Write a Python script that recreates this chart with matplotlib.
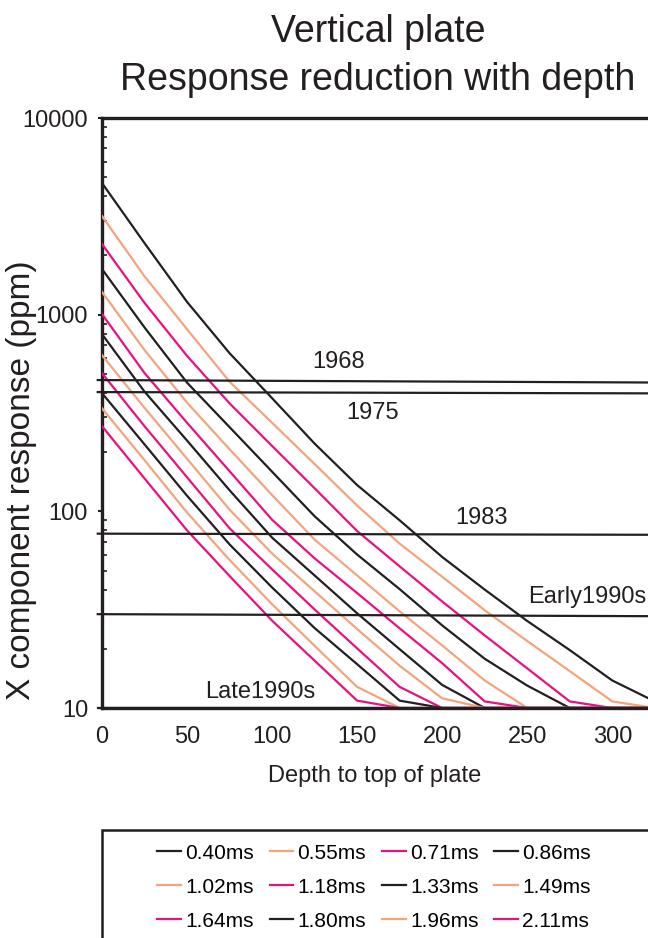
import matplotlib
matplotlib.use("Agg")
import matplotlib.pyplot as plt
import matplotlib.patches as patches
from matplotlib.ticker import FixedLocator, NullFormatter

plt.rcParams['font.family'] = ['Liberation Sans', 'DejaVu Sans']

# depth to top of plate (m)
depth = [0, 25, 50, 75, 100, 125, 150, 175, 200, 225, 250, 275, 300, 325]

# X component response (ppm) per channel
labels = ['0.40ms', '0.55ms', '0.71ms', '0.86ms', '1.02ms', '1.18ms',
          '1.33ms', '1.49ms', '1.64ms', '1.80ms', '1.96ms', '2.11ms']
ch040 = [4670, 2311, 1161, 637, 376, 221, 136, 90, 58.6, 40, 27.7, 19.7, 13.8, 10.8]
ch055 = [3170, 1567, 843, 456, 282, 174, 107, 68.5, 46.5, 31.4, 21.9, 15.4, 10.8, 10]
ch071 = [2286, 1148, 617, 354, 215, 131, 79.4, 52.5, 34.8, 23.4, 15.9, 10.8, 10, 10]
ch086 = [1706, 861, 451, 268, 159, 94.4, 60.3, 40.2, 26.3, 17.8, 13.0, 10, 10, 10]
ch102 = [1303, 661, 357, 207, 121, 71.8, 47.2, 31, 20.8, 13.8, 10, 10, 10, 10]
ch118 = [1007, 505, 282, 160, 90.6, 57.7, 38.4, 25.4, 16.9, 10.8, 10, 10, 10, 10]
ch133 = [796, 406, 229, 128, 73.5, 47.2, 30.3, 19.9, 13.1, 10, 10, 10, 10, 10]
ch149 = [622, 336, 185, 102, 61, 39.2, 25.2, 16.4, 11.2, 10, 10, 10, 10, 10]
ch164 = [504, 271, 149, 82, 50.7, 31.7, 20.1, 12.8, 10, 10, 10, 10, 10, 10]
ch180 = [399, 219, 120, 67.9, 41, 25.5, 16.7, 10.9, 10, 10, 10, 10, 10, 10]
ch196 = [334, 182, 98.6, 56.6, 33.7, 20.7, 12.8, 10, 10, 10, 10, 10, 10, 10]
ch211 = [271, 147, 80, 46.9, 27.8, 17.4, 10.9, 10, 10, 10, 10, 10, 10, 10]
channels = [ch040, ch055, ch071, ch086, ch102, ch118,
            ch133, ch149, ch164, ch180, ch196, ch211]

# noise levels of the different systems (left end, right end)
noise_names = ['1968', '1975', '1983', 'Early1990s', 'Late1990s']
noise_left = [465, 404, 77, 30, 10]
noise_right = [452, 398, 76, 29.3, 10]

colors = ['#231f20', '#f5a37c', '#e8117f']
xmax = 321

fig = plt.figure(figsize=(6.48, 9.38), dpi=100)
ax = fig.add_axes([102/648, 1-708/938, 1-102/648, (708-118)/938])

lines = []
for i, vals in enumerate(channels):
    ln, = ax.plot(depth, vals, color=colors[i % 3], lw=1.6, label=labels[i], zorder=3)
    lines.append(ln)

for name, yl, yr in zip(noise_names, noise_left, noise_right):
    ax.plot([-2.5, xmax], [yl, yr], color='#231f20', lw=1.6, clip_on=False, zorder=4)

ax.text(139, 573, '1968', fontsize=17, ha='center', va='center', color='#231f20')
ax.text(159, 315, '1975', fontsize=17, ha='center', va='center', color='#231f20')
ax.text(223, 93, '1983', fontsize=17, ha='center', va='center', color='#231f20')
ax.text(285, 36.5, 'Early1990s', fontsize=17, ha='center', va='center', color='#231f20')
ax.text(93, 12.1, 'Late1990s', fontsize=17, ha='center', va='center', color='#231f20')

ax.set_yscale('log')
ax.set_ylim(10, 10000)
ax.set_xlim(0, xmax)
ax.set_yticks([10, 100, 1000, 10000])
ax.set_yticklabels(['10', '100', '1000', '10000'])
ax.yaxis.set_minor_locator(FixedLocator([k * 10**e for e in range(1, 4) for k in range(2, 10)]))
ax.yaxis.set_minor_formatter(NullFormatter())
ax.set_xticks([0, 50, 100, 150, 200, 250, 300])
ax.tick_params(axis='x', length=0, pad=13, labelsize=17, colors='#231f20')
ax.tick_params(axis='y', which='major', direction='out', length=3, width=1.5, pad=7,
               labelsize=17, colors='#231f20')
ax.tick_params(axis='y', which='minor', direction='in', length=3.5, width=1.2, colors='#231f20')

for s in ['left', 'top', 'bottom']:
    ax.spines[s].set_linewidth(2.4)
    ax.spines[s].set_color('#231f20')
ax.spines['right'].set_visible(False)

ax.set_xlabel('Depth to top of plate', fontsize=17, color='#231f20', labelpad=12)
fig.text(22/648, 1-480/938, 'X component response (ppm)', rotation=90,
         fontsize=24, ha='center', va='center', color='#231f20')

fig.text(378/648, 1-32/938, 'Vertical plate', fontsize=27, ha='center', va='center', color='#231f20')
fig.text(378/648, 1-80/938, 'Response reduction with depth', fontsize=27, ha='center',
         va='center', color='#231f20')

# legend box (runs off the page like the original)
box = patches.Rectangle((102/648, 1-945/938), 0.9, 115/938, transform=fig.transFigure,
                        fill=False, edgecolor='#231f20', lw=1.8, clip_on=False)
fig.patches.append(box)
order = [0, 4, 8, 1, 5, 9, 2, 6, 10, 3, 7, 11]
fig.legend([lines[i] for i in order], [labels[i] for i in order], ncol=4,
           loc='upper center', bbox_to_anchor=(374/648, 1-829/938), frameon=False,
           fontsize=15, handlelength=1.15, handletextpad=0.2, columnspacing=0.75,
           labelspacing=0.72, borderpad=0.2)

fig.savefig('out.png', dpi=100)
